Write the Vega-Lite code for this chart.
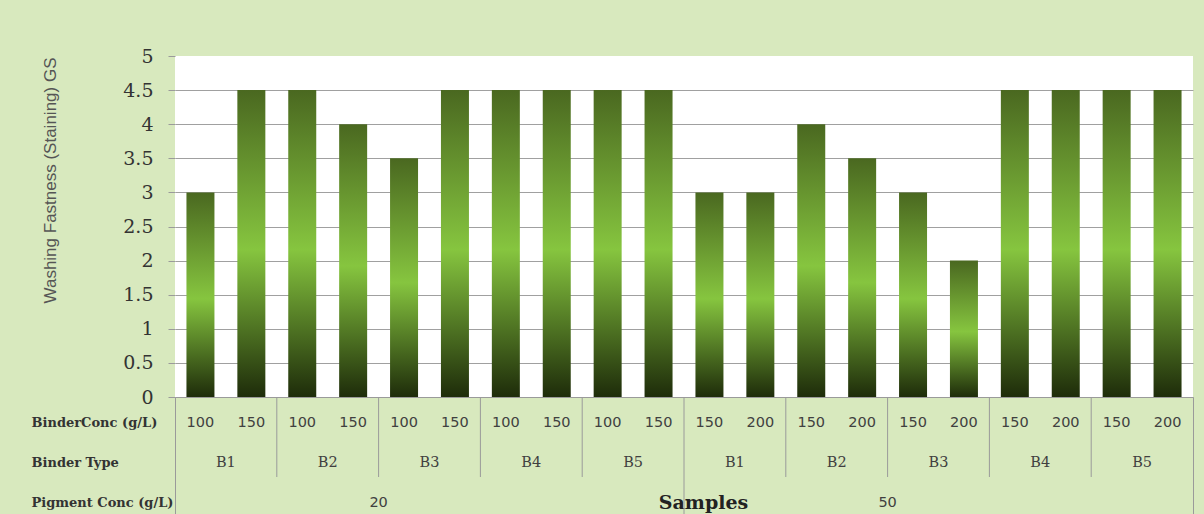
{
  "$schema": "https://vega.github.io/schema/vega-lite/v6.json",
  "background": "#d8e9be",
  "padding": {"left": 30, "top": 47, "right": 12, "bottom": 0},
  "spacing": 0,
  "bounds": "flush",
  "config": {"view": {"stroke": null}},
  "data": {
    "values": [
      {"id": "20 B1 100", "pigment": 20, "binder": "B1", "conc": 100, "gs": 3},
      {"id": "20 B1 150", "pigment": 20, "binder": "B1", "conc": 150, "gs": 4.5},
      {"id": "20 B2 100", "pigment": 20, "binder": "B2", "conc": 100, "gs": 4.5},
      {"id": "20 B2 150", "pigment": 20, "binder": "B2", "conc": 150, "gs": 4},
      {"id": "20 B3 100", "pigment": 20, "binder": "B3", "conc": 100, "gs": 3.5},
      {"id": "20 B3 150", "pigment": 20, "binder": "B3", "conc": 150, "gs": 4.5},
      {"id": "20 B4 100", "pigment": 20, "binder": "B4", "conc": 100, "gs": 4.5},
      {"id": "20 B4 150", "pigment": 20, "binder": "B4", "conc": 150, "gs": 4.5},
      {"id": "20 B5 100", "pigment": 20, "binder": "B5", "conc": 100, "gs": 4.5},
      {"id": "20 B5 150", "pigment": 20, "binder": "B5", "conc": 150, "gs": 4.5},
      {"id": "50 B1 150", "pigment": 50, "binder": "B1", "conc": 150, "gs": 3},
      {"id": "50 B1 200", "pigment": 50, "binder": "B1", "conc": 200, "gs": 3},
      {"id": "50 B2 150", "pigment": 50, "binder": "B2", "conc": 150, "gs": 4},
      {"id": "50 B2 200", "pigment": 50, "binder": "B2", "conc": 200, "gs": 3.5},
      {"id": "50 B3 150", "pigment": 50, "binder": "B3", "conc": 150, "gs": 3},
      {"id": "50 B3 200", "pigment": 50, "binder": "B3", "conc": 200, "gs": 2},
      {"id": "50 B4 150", "pigment": 50, "binder": "B4", "conc": 150, "gs": 4.5},
      {"id": "50 B4 200", "pigment": 50, "binder": "B4", "conc": 200, "gs": 4.5},
      {"id": "50 B5 150", "pigment": 50, "binder": "B5", "conc": 150, "gs": 4.5},
      {"id": "50 B5 200", "pigment": 50, "binder": "B5", "conc": 200, "gs": 4.5}
    ]
  },
  "vconcat": [
    {
      "width": 1018,
      "height": 341,
      "view": {"fill": "white", "stroke": null},
      "mark": {
        "type": "bar",
        "color": {
          "gradient": "linear",
          "x1": 0, "y1": 0, "x2": 0, "y2": 1,
          "stops": [
            {"offset": 0, "color": "#4a6820"},
            {"offset": 0.52, "color": "#86c53f"},
            {"offset": 1, "color": "#1e2c0a"}
          ]
        }
      },
      "encoding": {
        "x": {
          "field": "id", "type": "nominal", "sort": null,
          "scale": {"paddingInner": 0.45, "paddingOuter": 0.225},
          "axis": null
        },
        "y": {
          "field": "gs", "type": "quantitative",
          "scale": {"domain": [0, 5], "nice": false},
          "axis": {
            "values": [0, 0.5, 1, 1.5, 2, 2.5, 3, 3.5, 4, 4.5, 5],
            "format": "~g",
            "title": "Washing Fastness (Staining) GS",
            "titleFont": "Liberation Sans",
            "titleFontSize": 17,
            "titleFontWeight": "normal",
            "titleColor": "#555555",
            "titleX": -116,
            "titleY": 124,
            "labelFont": "DejaVu Serif",
            "labelFontSize": 19,
            "labelColor": "#333333",
            "labelPadding": 15,
            "tickSize": 7,
            "tickColor": "#9a9a9a",
            "domain": false,
            "grid": true,
            "gridColor": "#a0a0a0",
            "gridOpacity": {"condition": {"test": "datum.value == 5", "value": 0}, "value": 1}
          }
        }
      }
    },
    {
      "width": 1018,
      "height": 120,
      "view": {"stroke": "#9a9a9a", "strokeWidth": 1},
      "encoding": {
        "x": {
          "field": "id", "type": "nominal", "sort": null,
          "scale": {"type": "band", "paddingInner": 0, "paddingOuter": 0},
          "axis": {
            "title": "Samples",
            "labels": false, "ticks": false, "domain": false,
            "titleFont": "DejaVu Serif",
            "titleFontSize": 19,
            "titleFontWeight": "bold",
            "titleColor": "#222222",
            "titleX": 528,
            "titleY": -15,
            "titleBaseline": "middle"
          }
        }
      },
      "layer": [
        {
          "mark": {"type": "text", "font": "DejaVu Sans", "fontSize": 14.5, "color": "#404040", "dy": 6},
          "encoding": {
            "y": {
              "datum": "BinderConc (g/L)", "type": "nominal",
              "scale": {
                "type": "band",
                "domain": ["BinderConc (g/L)", "Binder Type", "Pigment Conc (g/L)"],
                "paddingInner": 0, "paddingOuter": 0
              },
              "axis": {
                "title": null,
                "domain": false, "ticks": false, "tickSize": 0,
                "labelAlign": "left",
                "labelPadding": 144,
                "labelOffset": 6,
                "labelFont": "DejaVu Serif",
                "labelFontSize": 13,
                "labelFontWeight": "bold",
                "labelColor": "#333333"
              }
            },
            "text": {"field": "conc"}
          }
        },
        {
          "mark": {"type": "text", "font": "DejaVu Serif", "fontSize": 14.5, "color": "#404040", "dy": 6},
          "encoding": {
            "x": {"field": "id", "type": "nominal", "sort": null, "bandPosition": 0},
            "y": {"datum": "Binder Type", "type": "nominal"},
            "text": {
              "condition": {"test": "datum.conc == (datum.pigment == 20 ? 150 : 200)", "field": "binder"},
              "value": ""
            }
          }
        },
        {
          "mark": {"type": "text", "font": "DejaVu Sans", "fontSize": 14.5, "color": "#404040", "dy": 6},
          "encoding": {
            "x": {"field": "id", "type": "nominal", "sort": null, "bandPosition": 0},
            "y": {"datum": "Pigment Conc (g/L)", "type": "nominal"},
            "text": {
              "condition": {"test": "datum.binder == 'B3' && datum.conc == (datum.pigment == 20 ? 100 : 150)", "field": "pigment"},
              "value": ""
            }
          }
        },
        {
          "mark": {"type": "rule", "color": "#9a9a9a", "strokeWidth": 1},
          "encoding": {
            "x": {"field": "id", "type": "nominal", "sort": null, "bandPosition": 0},
            "y": {"datum": "BinderConc (g/L)", "type": "nominal", "bandPosition": 0},
            "y2": {"datum": "Binder Type", "bandPosition": 1},
            "strokeOpacity": {
              "condition": {"test": "datum.binder != 'B1' && datum.conc == (datum.pigment == 20 ? 100 : 150)", "value": 1},
              "value": 0
            }
          }
        },
        {
          "mark": {"type": "rule", "color": "#9a9a9a", "strokeWidth": 1},
          "encoding": {
            "x": {"field": "id", "type": "nominal", "sort": null, "bandPosition": 0},
            "y": {"datum": "BinderConc (g/L)", "type": "nominal", "bandPosition": 0},
            "y2": {"datum": "Pigment Conc (g/L)", "bandPosition": 1},
            "strokeOpacity": {
              "condition": {"test": "datum.pigment == 50 && datum.binder == 'B1' && datum.conc == 150", "value": 1},
              "value": 0
            }
          }
        }
      ]
    }
  ]
}
